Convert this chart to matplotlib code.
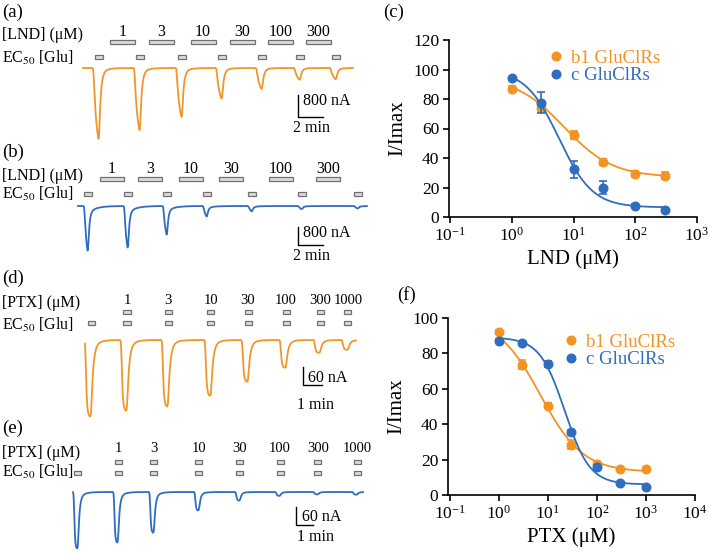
import numpy as np
import matplotlib
matplotlib.use('Agg')
import matplotlib.pyplot as plt
import matplotlib.transforms as mtransforms
from matplotlib.patches import Rectangle

#---
#       DATA
#---
# (a) b1 GluClRs, LND, times in min, peak currents in nA
a_glu = [1.28, 4.56, 7.92, 11.12, 14.32, 17.36, 20.24]
a_amp = [2660, 2330, 1830, 1150, 790, 440, 420]
a_drug = [3.16, 6.28, 9.6, 12.76, 15.8, 18.84]
# (b) c GluClRs, LND
b_glu = [0.8, 4.0, 7.12, 10.32, 13.92, 17.92, 22.4]
b_amp = [2170, 2020, 1390, 510, 260, 150, 120]
b_drug = [2.72, 5.76, 9.04, 12.24, 16.24, 20.0]
lnd_lab = ['1', '3', '10', '30', '100', '300']
# (d) b1 GluClRs, PTX
d_glu = [0.32, 2.21, 4.37, 6.63, 8.58, 10.58, 12.37, 13.84]
d_amp = [257, 237, 223, 187, 140, 93, 43, 33]
# (e) c GluClRs, PTX
e_glu = [0.29, 2.65, 4.76, 7.41, 9.82, 12.18, 14.41, 16.71]
e_amp = [190, 170, 137, 62, 29, 13, 8, 9]
ptx_lab = ['1', '3', '10', '30', '100', '300', '1000']

# (c) LND dose response
lnd_x = [1, 3, 10, 30, 100, 300]
lnd_b1 = [87, 74, 55.5, 37, 29, 28]
lnd_b1_err = [1.5, 2.7, 2.5, 2, 2, 2.5]
lnd_c = [94, 77.5, 32.5, 20, 7.5, 4.5]
lnd_c_err = [1, 7, 5.8, 4.5, 1, 1]
# fitted Hill parameters (top, bottom, IC50, slope)
lnd_b1_fit = [95, 27, 7, 1.1]
lnd_c_fit = [100, 6.5, 5.8, 1.6]

# (f) PTX dose response
ptx_x = [1, 3, 10, 30, 100, 300, 1000]
ptx_b1 = [92, 73.5, 50.5, 28.5, 17.5, 14.5, 14.5]
ptx_b1_err = [1, 2.5, 1.5, 2.5, 1, 1, 1]
ptx_c = [87, 86, 74, 35.5, 16, 6.5, 4.5]
ptx_c_err = [1, 1, 1.5, 1.5, 1, 1, 1]
ptx_b1_fit = [100, 13, 7, 1.0]
ptx_c_fit = [89, 6, 22, 1.7]

ORANGE = '#f39322'
BLUE = '#2f6dbf'

#---
#       FUNCTIONS
#---
W, H, DPI = 709, 553, 100

plt.rcParams['font.family'] = 'Liberation Serif'
plt.rcParams['mathtext.fontset'] = 'stix'

fig = plt.figure(figsize=(W/DPI, H/DPI), dpi=DPI)
fig.set_facecolor('white')
PX = mtransforms.Affine2D().scale(1/DPI, -1/DPI).translate(0, H/DPI) + fig.dpi_scale_trans


def box(x0, y0, x1, y1):
    return fig.add_axes([x0/W, 1-y1/H, (x1-x0)/W, (y1-y0)/H])


def response(t, tpk, amps, d, tr, td, slow, ts, sm):
    I = np.zeros_like(t)
    for tp, A in zip(tpk, amps):
        s = t - (tp - d)
        on = (s >= 0) & (t <= tp)
        I[on] -= A*(1-np.exp(-s[on]/tr))/(1-np.exp(-d/tr))
        off = t > tp
        u = t[off] - tp
        I[off] -= A*((1-slow)*np.exp(-u/td) + slow*np.exp(-u/ts))
    dt = t[1]-t[0]
    k = np.arange(-int(4*sm/dt), int(4*sm/dt)+1)*dt
    k = np.exp(-0.5*(k/sm)**2)
    k /= k.sum()
    n = len(k)//2
    Ip = np.concatenate([np.full(n, I[0]), I, np.full(n, I[-1])])
    return np.convolve(Ip, k, mode='valid')


def trace_panel(x0, x1, ybase, ytop, ybot, px_min, px_nA, tpk, amps, c, shape):
    ax = box(x0, ytop, x1, ybot)
    tmax = (x1-x0)/px_min
    ax.set_xlim(0, tmax)
    ax.set_ylim(-(ybot-ybase)/px_nA, (ybase-ytop)/px_nA)
    ax.axis('off')
    t = np.arange(0, tmax, 0.004)
    ax.plot(t, response(t, tpk, amps, *shape), color=c, lw=1.3, clip_on=False)
    return ax


def app_bars(ax, tc, w, ypx, labels=None, ylab=None, h=3.6, size=11.5):
    tf = mtransforms.blended_transform_factory(ax.transData, PX)
    for i, x in enumerate(tc):
        ax.add_patch(Rectangle((x-w/2, ypx-h/2), w, h, transform=tf, fc='#dcdcdc',
                               ec='#707070', lw=0.9, clip_on=False))
        if labels is not None:
            ax.text(x, ylab, labels[i], transform=tf, ha='center', va='center', fontsize=size)


def scalebar(ax, t0, i0, dt, di):
    ax.plot([t0, t0, t0+dt], [i0+di, i0, i0], color='k', lw=1.0, clip_on=False)


def ftext(x, y, s, size=11.5, **kw):
    fig.text(x, y, s, transform=PX, fontsize=size, va='center', **kw)


def hill(x, top, bot, ic50, n):
    return bot + (top-bot)/(1+(x/ic50)**n)


def dose_panel(ax, x, y1, e1, f1, y2, e2, f2, xlab, xlim, xticks):
    xx = np.logspace(np.log10(x[0]), np.log10(x[-1]), 200)
    for y, e, f, c, lab in [(y1, e1, f1, ORANGE, 'b1 GluClRs'), (y2, e2, f2, BLUE, 'c GluClRs')]:
        ax.plot(xx, hill(xx, *f), color=c, lw=1.3)
        ax.errorbar(x, y, yerr=e, fmt='none', ecolor=c, elinewidth=1.2, capsize=3, capthick=1.2)
        ax.plot(x, y, 'o', color=c, markersize=6.2, label=lab)
    ax.set_xscale('log')
    ax.set_xlim(*xlim)
    ax.set_xticks(xticks)
    ax.minorticks_off()
    ax.set_xlabel(xlab, fontsize=15, labelpad=3)
    ax.set_ylabel('I/Imax', fontsize=15, labelpad=4)
    for s in ['top', 'right']:
        ax.spines[s].set_visible(False)
    for s in ['left', 'bottom']:
        ax.spines[s].set_linewidth(1.2)
    ax.tick_params(labelsize=12.5, width=1.2, length=4, pad=3)
    ax.patch.set_alpha(0)


def legend(ax, xpx, ypx):
    ax.legend(loc='center left', bbox_to_anchor=(xpx, ypx), bbox_transform=PX, frameon=False,
              fontsize=13.5, handlelength=1, handletextpad=0.3, borderpad=0, borderaxespad=0,
              labelspacing=0, labelcolor='linecolor')


#---
#       PROGRAM
#---

# (a)
ax = trace_panel(83, 353, 68, 60, 148, 12.5, 22.3/800, a_glu, a_amp, '#f0962a',
                 (0.45, 0.25, 0.13, 0.08, 0.5, 0.03))
app_bars(ax, a_drug, 2.0, 42, lnd_lab, 32)
app_bars(ax, a_glu, 0.64, 57)
scalebar(ax, 17.2, -1760, 2, 800)
ftext(2, 12, '(a)', 13.5)
ftext(2, 35, '[LND] (μM)')
ftext(2, 58, r'EC$_{50}$ [Glu]')
ftext(303, 101, '800 nA')
ftext(293, 128, '2 min')

# (b)
ax = trace_panel(78, 367, 206, 198, 258, 12.5, 17.7/800, b_glu, b_amp, BLUE,
                 (0.3, 0.2, 0.1, 0.15, 0.6, 0.03))
app_bars(ax, b_drug, 1.92, 179, lnd_lab, 169)
app_bars(ax, b_glu, 0.64, 194)
scalebar(ax, 17.6, -1763, 2, 800)
ftext(2, 152, '(b)', 13.5)
ftext(2, 176, '[LND] (μM)')
ftext(2, 194, r'EC$_{50}$ [Glu]')
ftext(303, 233, '800 nA')
ftext(293, 256, '2 min')

# (d)
ax = trace_panel(85, 356, 340, 332, 420, 19, 18/60, d_glu, d_amp, '#f0962a',
                 (0.3, 0.05, 0.1, 0.12, 0.3, 0.025))
app_bars(ax, d_glu[1:], 0.37, 312, ptx_lab, 300, size=10.5)
app_bars(ax, d_glu, 0.37, 323)
scalebar(ax, 11.47, -150, 1, 60)
ftext(2, 278, '(d)', 13.5)
ftext(2, 303, '[PTX] (μM)')
ftext(2, 325, r'EC$_{50}$ [Glu]')
ftext(308, 378, '60 nA')
ftext(297, 405, '1 min')

# (e)
ax = trace_panel(73, 363, 492, 484, 553, 17, 18/60, e_glu, e_amp, BLUE,
                 (0.24, 0.04, 0.08, 0.12, 0.3, 0.025))
app_bars(ax, e_glu[1:], 0.41, 462, ptx_lab, 449, size=10.5)
app_bars(ax, e_glu, 0.41, 473)
scalebar(ax, 13.12, -110, 1, 60)
ftext(2, 428, '(e)', 13.5)
ftext(2, 453, '[PTX] (μM)')
ftext(2, 472, r'EC$_{50}$ [Glu]')
ftext(302, 517, '60 nA')
ftext(297, 537, '1 min')

# (c)
axc = box(449, 40, 697, 217)
dose_panel(axc, lnd_x, lnd_b1, lnd_b1_err, lnd_b1_fit, lnd_c, lnd_c_err, lnd_c_fit,
           'LND (μM)', (10**-1.02, 1e3), [1e-1, 1e0, 1e1, 1e2, 1e3])
axc.set_ylim(0, 120)
axc.set_yticks(np.arange(0, 121, 20))
legend(axc, 547, 67)
ftext(383, 12, '(c)', 13.5)

# (f)
axf = box(448, 318, 695, 495)
dose_panel(axf, ptx_x, ptx_b1, ptx_b1_err, ptx_b1_fit, ptx_c, ptx_c_err, ptx_c_fit,
           'PTX (μM)', (10**-1.04, 1e4), [1e-1, 1e0, 1e1, 1e2, 1e3, 1e4])
axf.set_ylim(0, 100)
axf.set_yticks(np.arange(0, 101, 20))
legend(axf, 562, 351)
ftext(397, 295, '(f)', 13.5)

fig.savefig('out.png', dpi=DPI)
